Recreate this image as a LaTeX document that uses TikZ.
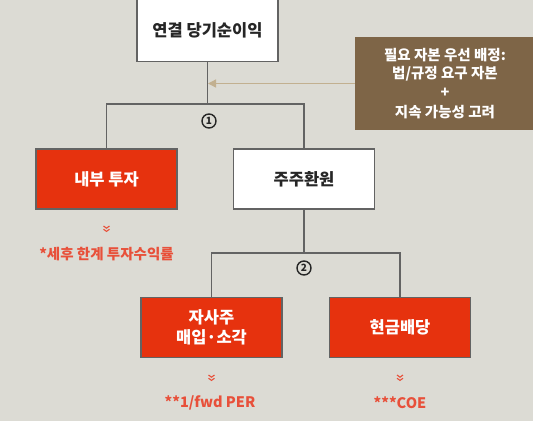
\documentclass[tikz,border=0pt]{standalone}
\usepackage{fontspec}
\setmainfont{Noto Sans CJK KR}
\usetikzlibrary{arrows.meta}
\definecolor{bg}{HTML}{DCDBD4}
\definecolor{redbox}{HTML}{E6320E}
\definecolor{brownbox}{HTML}{7E6547}
\definecolor{edge}{HTML}{636363}
\definecolor{note}{HTML}{E8503A}
\definecolor{tan}{HTML}{C2B090}
\tikzset{
  box/.style={draw=edge, line width=1.4pt, minimum width=141pt, minimum height=60pt, inner sep=0pt, align=center, font=\fontsize{16.5}{21}\selectfont\bfseries},
  redb/.style={box, fill=redbox, text=white},
  whiteb/.style={box, fill=white, text=black!85},
  conn/.style={draw=edge, line width=1.4pt},
  num/.style={circle, draw=black!85, line width=1.4pt, inner sep=0pt, minimum size=14pt, font=\fontsize{10}{10}\selectfont\bfseries, text=black!85},
  notetext/.style={text=note, font=\fontsize{14.5}{16}\selectfont\bfseries, inner sep=0pt},
  chev/.style={draw=note, line width=1.1pt},
  arr/.style={draw=tan, line width=1.3pt, -{Triangle[length=8pt,width=8pt]}}
}
\newcommand{\chevron}[2]{%
  \draw[chev] (#1-3,#2-3) -- (#1,#2-0.8) -- (#1+3,#2-3);
  \draw[chev] (#1-3,#2+0.2) -- (#1,#2+2.4) -- (#1+3,#2+0.2);}
\begin{document}
\begin{tikzpicture}[x=1pt,y=-1pt]
\fill[bg] (0,0) rectangle (533,421);
\useasboundingbox (0,0) rectangle (533,421);

\node[whiteb, minimum width=141pt, minimum height=62pt] (net) at (207.5,30.5) {연결 당기순이익};
\node[fill=brownbox, text=white, minimum width=180pt, minimum height=93pt, inner sep=0pt, align=center, font=\fontsize{14.5}{19.5}\selectfont\bfseries] (cap) at (445,83.5) {필요 자본 우선 배정:\\[-1.5pt]법/규정 요구 자본\\+\\지속 가능성 고려};

\node[redb] (inv) at (106.5,179) {내부 투자};
\node[whiteb] (ret) at (304,179) {주주환원};
\node[redb] (buy) at (211.5,327.5) {자사주\\[-1pt]매입·소각};
\node[redb] (div) at (400,327.5) {현금배당};

\coordinate (j1) at (208,104);
\coordinate (j2) at (304,253);

\draw[conn] (net.south) -- (net.south |- j1);
\draw[conn] (inv.north) -- (inv.north |- j1) -- (ret.north |- j1) -- (ret.north);
\draw[conn] (ret.south) -- (ret.south |- j2);
\draw[conn] (buy.north) -- (buy.north |- j2) -- (div.north |- j2) -- (div.north);

\draw[arr] (cap.west) -- (cap.west -| j1);

\node[num] (n1) at (209,121) {1};
\node[num] (n2) at (304,268) {2};

\chevron{106.5}{229}
\chevron{211.5}{378}
\chevron{400}{378}
\node[notetext] (t1) at (106.5,254) {*세후 한계 투자수익률};
\node[notetext] (t2) at (210,403) {**1/fwd PER};
\node[notetext] (t3) at (400,403) {***COE};
\end{tikzpicture}
\end{document}
